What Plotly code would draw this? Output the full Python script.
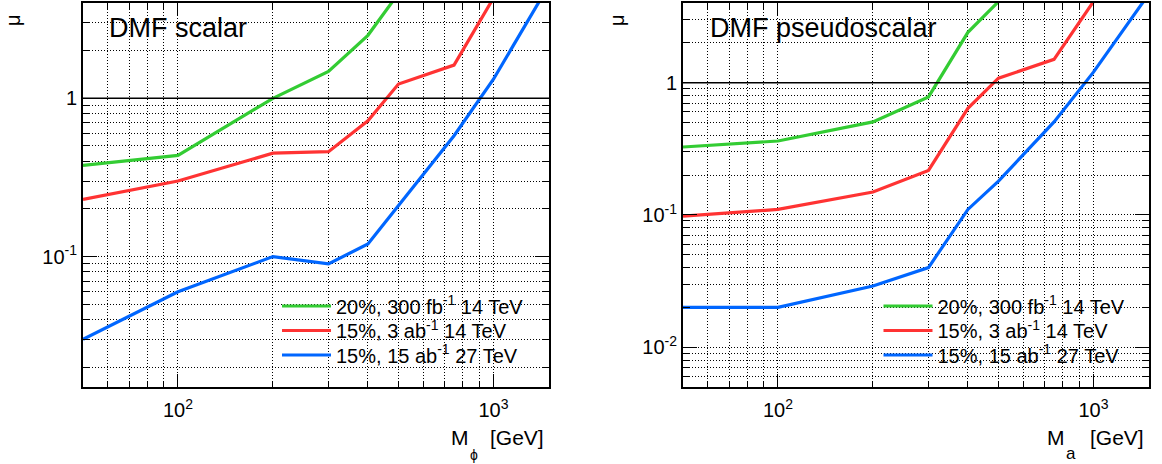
import plotly.graph_objects as go
import math

# ---------------- data ----------------
scalar_green_m = [50, 100, 200, 300, 400, 500]
scalar_green_mu = [0.377, 0.436, 1.0, 1.48, 2.5, 4.6]
scalar_red_m = [50, 100, 200, 300, 400, 500, 750, 1000]
scalar_red_mu = [0.23, 0.30, 0.45, 0.46, 0.72, 1.23, 1.62, 4.3]
scalar_blue_m = [50, 100, 200, 300, 400, 500, 750, 1000, 1500]
scalar_blue_mu = [0.030, 0.060, 0.100, 0.090, 0.120, 0.21, 0.58, 1.32, 5.2]

pseudo_green_m = [50, 100, 200, 300, 400, 500]
pseudo_green_mu = [0.326, 0.362, 0.505, 0.78, 2.4, 4.1]
pseudo_red_m = [50, 100, 200, 300, 400, 500, 750, 1000]
pseudo_red_mu = [0.098, 0.110, 0.149, 0.217, 0.64, 1.08, 1.50, 4.1]
pseudo_blue_m = [50, 100, 200, 300, 400, 500, 750, 1000, 1500]
pseudo_blue_mu = [0.020, 0.020, 0.029, 0.040, 0.110, 0.180, 0.505, 1.20, 4.7]

legend_labels = [
    "20%, 300 fb<sup>-1</sup> 14 TeV",
    "15%, 3 ab<sup>-1</sup> 14 TeV",
    "15%, 15 ab<sup>-1</sup> 27 TeV",
]
colors = ["#33cc33", "#ff3333", "#0066ff"]
panel_titles = ["DMF scalar", "DMF pseudoscalar"]

x_ticks = [100, 1000]
x_ticktext = ["10<sup>2</sup>", "10<sup>3</sup>"]
x_minor = [60, 70, 80, 90, 200, 300, 400, 500, 600, 700, 800, 900]
yl_ticks = [0.1, 1]
yl_ticktext = ["10<sup>-1</sup>", "1"]
yr_ticks = [0.01, 0.1, 1]
yr_ticktext = ["10<sup>-2</sup>", "10<sup>-1</sup>", "1"]
y_minor_l = [0.02, 0.03, 0.04, 0.05, 0.06, 0.07, 0.08, 0.09,
             0.2, 0.3, 0.4, 0.5, 0.6, 0.7, 0.8, 0.9, 2, 3]
y_minor_r = [0.006, 0.007, 0.008, 0.009] + y_minor_l

x_range = [50, 1500]
yl_range = [0.015, 4]
yr_range = [0.005, 4]

# ---------------- figure ----------------
W, H = 1162, 464
FONT = "Liberation Sans, Arial, Helvetica, sans-serif"

fig = go.Figure()

left = [(scalar_green_m, scalar_green_mu), (scalar_red_m, scalar_red_mu), (scalar_blue_m, scalar_blue_mu)]
right = [(pseudo_green_m, pseudo_green_mu), (pseudo_red_m, pseudo_red_mu), (pseudo_blue_m, pseudo_blue_mu)]

legend_names = ["legend", "legend2", "legend3", "legend4", "legend5", "legend6"]

for i, (m, mu) in enumerate(left):
    fig.add_trace(go.Scatter(x=m, y=mu, mode="lines", name=legend_labels[i],
                             line=dict(color=colors[i], width=3.2), showlegend=True,
                             xaxis="x", yaxis="y", legend=legend_names[i]))
for i, (m, mu) in enumerate(right):
    fig.add_trace(go.Scatter(x=m, y=mu, mode="lines", name=legend_labels[i],
                             line=dict(color=colors[i], width=3.2), showlegend=True,
                             xaxis="x2", yaxis="y2", legend=legend_names[3 + i]))

L0, L1 = 83 / W, 549 / W
R0, R1 = 683 / W, 1149 / W
Y0, Y1 = 1 - 387 / H, 1 - 3 / H

grid_dash = "1px,2px"


def xaxis_cfg(domain, anchor):
    return dict(type="log", domain=domain, anchor=anchor,
                range=[math.log10(x_range[0]), math.log10(x_range[1])],
                tickmode="array", tickvals=x_ticks, ticktext=x_ticktext,
                ticks="inside", ticklen=13, tickwidth=1, tickcolor="black",
                showline=True, linecolor="black", linewidth=2, mirror="ticks",
                showgrid=True, gridcolor="black", gridwidth=1, griddash=grid_dash,
                minor=dict(tickmode="array", tickvals=x_minor, ticks="inside", ticklen=6,
                           tickcolor="black", tickwidth=1, showgrid=True,
                           gridcolor="black", gridwidth=1, griddash=grid_dash),
                tickfont=dict(family=FONT, size=20, color="black"),
                ticklabelstandoff=4, zeroline=False, automargin=False)


def yaxis_cfg(domain, anchor, rng, tv, tt, minor):
    return dict(type="log", domain=domain, anchor=anchor,
                range=[math.log10(rng[0]), math.log10(rng[1])],
                tickmode="array", tickvals=tv, ticktext=tt,
                ticks="inside", ticklen=14, tickwidth=1, tickcolor="black",
                showline=True, linecolor="black", linewidth=2, mirror="ticks",
                showgrid=True, gridcolor="black", gridwidth=1, griddash=grid_dash,
                minor=dict(tickmode="array", tickvals=minor, ticks="inside", ticklen=7,
                           tickcolor="black", tickwidth=1, showgrid=True,
                           gridcolor="black", gridwidth=1, griddash=grid_dash),
                tickfont=dict(family=FONT, size=20, color="black"),
                ticklabelstandoff=0, zeroline=False, automargin=False)


layout = dict(
    width=W, height=H,
    margin=dict(l=0, r=0, t=0, b=0),
    paper_bgcolor="white", plot_bgcolor="white",
    font=dict(family=FONT, color="black"),
    showlegend=True,
    xaxis=xaxis_cfg([L0, L1], "y"),
    yaxis=yaxis_cfg([Y0, Y1], "x", yl_range, yl_ticks, yl_ticktext, y_minor_l),
    xaxis2=xaxis_cfg([R0, R1], "y2"),
    yaxis2=yaxis_cfg([Y0, Y1], "x2", yr_range, yr_ticks, yr_ticktext, y_minor_r),
)
row_y = [306, 330.5, 355]
for k, name in enumerate(legend_names):
    lx = 277 if k < 3 else 878.5
    layout[name] = dict(x=lx / W, y=1 - row_y[k % 3] / H, xanchor="left", yanchor="middle",
                        bgcolor="rgba(0,0,0,0)", borderwidth=0, itemwidth=49, visible=True,
                        font=dict(family=FONT, size=20, color="black"))
fig.update_layout(**layout)

# mu = 1 reference line
for xr, yr in (("x", "y"), ("x2", "y2")):
    fig.add_shape(type="line", xref=f"{xr} domain", yref=yr, x0=0, x1=1, y0=1, y1=1,
                  line=dict(color="black", width=1.5))

# panel titles
for xr, yr, title, xo in (("x", "y", panel_titles[0], 0.051), ("x2", "y2", panel_titles[1], 0.054)):
    fig.add_annotation(xref=f"{xr} domain", yref=f"{yr} domain", x=xo, y=0.935,
                       xanchor="left", yanchor="middle", showarrow=False,
                       text=title, font=dict(family=FONT, size=27, color="black"))

# y-axis titles (mu)
for px in (13, 617):
    fig.add_annotation(xref="paper", yref="paper", x=px / W, y=1 - 20 / H,
                       xanchor="center", yanchor="middle", showarrow=False, textangle=-90,
                       text="μ", font=dict(family=FONT, size=20, color="black"))

# x-axis titles
for mx, sx, gx, sub, sy, fs in ((460, 473.5, 546, "ϕ", 455, 14), (1056, 1071, 1146, "a", 453, 17)):
    fig.add_annotation(xref="paper", yref="paper", x=mx / W, y=1 - 437 / H,
                       xanchor="center", yanchor="middle", showarrow=False,
                       text="M", font=dict(family=FONT, size=21, color="black"))
    fig.add_annotation(xref="paper", yref="paper", x=gx / W, y=1 - 437 / H,
                       xanchor="right", yanchor="middle", showarrow=False,
                       text="[GeV]", font=dict(family=FONT, size=21, color="black"))
    fig.add_annotation(xref="paper", yref="paper", x=sx / W, y=1 - sy / H,
                       xanchor="center", yanchor="middle", showarrow=False, borderpad=0,
                       text=sub, font=dict(family=FONT, size=fs, color="black"))

fig.write_html("out.html", config={"displayModeBar": False},
               post_script="document.body.style.margin='0';document.body.style.overflow='hidden';")
